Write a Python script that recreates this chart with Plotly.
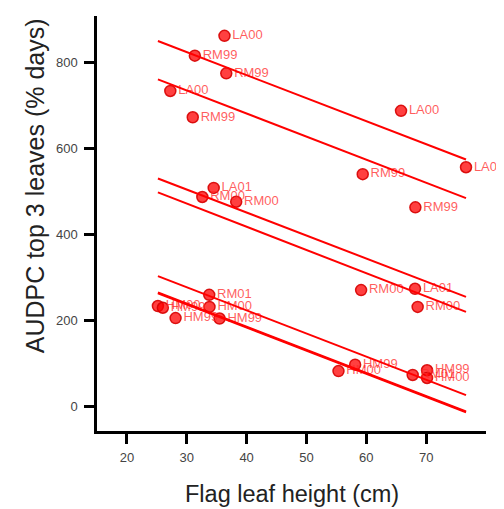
import plotly.graph_objects as go

# Points: flag leaf height (cm), AUDPC, label
pt_x = [36.3, 31.35, 36.6, 27.25, 31.0, 65.8, 76.66, 59.4, 68.2, 34.5, 32.6, 38.26,
        59.13, 68.14, 68.58, 33.75, 33.8, 25.18, 26.0, 28.13, 35.48, 58.13, 55.35,
        67.75, 70.15, 70.15]
pt_y = [861, 815, 774, 733, 672, 687, 556, 540, 463, 508, 487, 476,
        271, 274, 232, 260, 232, 234, 230, 206, 205, 98, 83,
        74, 85, 67]
pt_lab = ["LA00", "RM99", "RM99", "LA00", "RM99", "LA00", "LA00", "RM99", "RM99", "LA01", "RM00", "RM00",
          "RM00", "LA01", "RM00", "RM01", "HM00", "HM00", "HM99", "HM99", "HM99", "HM99", "HM00",
          "RM01", "HM99", "HM00"]

# Fitted lines (one per group): start/end
line_group = ["LA00", "RM99", "LA01", "RM00", "RM01", "HM00", "HM99"]
line_x0 = [25.18] * 7
line_x1 = [76.66] * 7
line_y0 = [849, 760, 530, 497.6, 303.3, 265.5, 263.7]
line_y1 = [574, 484.3, 255.3, 220.5, 27.2, -10.7, -12.5]

x_ticks = [20, 30, 40, 50, 60, 70]
y_ticks = [0, 200, 400, 600, 800]
x_title = "Flag leaf height (cm)"
y_title = "AUDPC top 3 leaves (% days)"

FONT = "Liberation Sans, Arial"

fig = go.Figure()

fig.add_trace(go.Scatter(
    x=pt_x, y=pt_y, text=pt_lab, mode="markers+text",
    textposition="middle right", cliponaxis=False,
    textfont=dict(family=FONT, size=13, color="rgba(255,40,40,0.75)"),
    marker=dict(size=11, color="rgba(255,0,0,0.75)", line=dict(color="rgba(215,0,0,0.9)", width=1.5)),
    showlegend=False, hoverinfo="skip"))

for g, a, b, c, d in zip(line_group, line_x0, line_x1, line_y0, line_y1):
    fig.add_trace(go.Scatter(x=[a, b], y=[c, d], mode="lines", name=g,
                             line=dict(color="#ff0000", width=2), showlegend=False))

axis_common = dict(showline=True, linecolor="black", linewidth=2.5, ticks="outside",
                   ticklen=10, tickwidth=2.5, tickcolor="black", showgrid=False, zeroline=False,
                   tickfont=dict(family=FONT, size=13, color="#444444"),
                   mirror=False, automargin=False)

fig.update_xaxes(range=[15, 80], tickvals=x_ticks, ticklabelstandoff=3, **axis_common)
fig.update_yaxes(range=[-56, 907], tickvals=y_ticks, ticklabelstandoff=4, **axis_common)

fig.add_annotation(text=x_title, xref="paper", yref="paper", x=0.5, y=-0.152,
                   xanchor="center", yanchor="middle", showarrow=False,
                   font=dict(family=FONT, size=23.5, color="#222222"))
fig.add_annotation(text=y_title, xref="paper", yref="paper", x=-0.159, y=0.59,
                   xanchor="center", yanchor="middle", showarrow=False, textangle=-90,
                   font=dict(family=FONT, size=25, color="#222222"))

# page body has an 8px default margin, so the figure is 8px smaller
fig.update_layout(width=496, height=501, margin=dict(l=89, r=18, t=8, b=78),
                  plot_bgcolor="white", paper_bgcolor="white")

fig.write_html("out.html")
